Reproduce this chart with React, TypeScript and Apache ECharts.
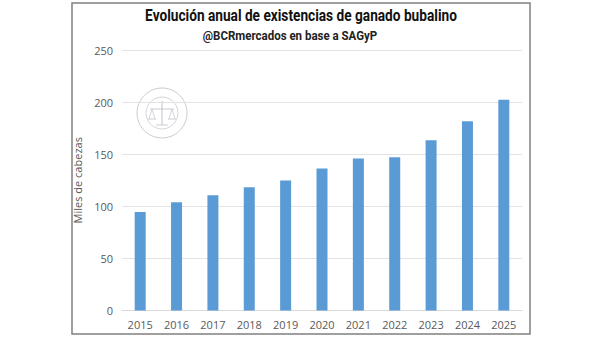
import React, { useEffect, useRef } from "react";
import * as echarts from "echarts";

const years = ["2015", "2016", "2017", "2018", "2019", "2020", "2021", "2022", "2023", "2024", "2025"];
const stock = [94.6, 103.8, 110.6, 118.3, 124.8, 136.2, 145.8, 147.1, 163.5, 181.7, 202.2];
const titleText = "Evolución anual de existencias de ganado bubalino";
const subtitleText = "@BCRmercados en base a SAGyP";
const yAxisName = "Miles de cabezas";

export default function App() {
  const ref = useRef<HTMLDivElement>(null);
  useEffect(() => {
    document.body.style.margin = "0";
    const chart = echarts.init(ref.current!, null, { renderer: "svg" });
    const sealColor = "#c8ccd2";
    chart.setOption({
      animation: false,
      backgroundColor: "#ffffff",
      grid: { left: 122, right: 78, top: 50, bottom: 28.5 },
      xAxis: {
        type: "category",
        data: years,
        axisLine: { lineStyle: { color: "#d9d9d9" } },
        axisTick: { show: false },
        axisLabel: { color: "#595959", fontSize: 11, fontFamily: "Open Sans", margin: 8 },
      },
      yAxis: {
        type: "value",
        min: 0,
        max: 250,
        interval: 50,
        name: yAxisName,
        nameLocation: "middle",
        nameGap: 33,
        nameTextStyle: { color: "#595959", fontSize: 11, fontFamily: "Open Sans" },
        axisLine: { show: false },
        axisTick: { show: false },
        splitLine: { lineStyle: { color: "#e3e3e3" } },
        axisLabel: { color: "#595959", fontSize: 11, fontFamily: "Open Sans", margin: 9 },
      },
      series: [
        {
          type: "bar",
          data: stock,
          barWidth: 11,
          itemStyle: { color: "#5b9bd5" },
        },
      ],
      graphic: [
        {
          type: "rect",
          shape: { x: 72, y: 3, width: 458, height: 331 },
          style: { fill: "none", stroke: "#808080", lineWidth: 1.5 },
          silent: true,
        },
        {
          type: "text",
          x: 301,
          y: 8,
          scaleX: 0.855,
          silent: true,
          style: {
            text: titleText,
            fill: "#111111",
            font: "bold 16px Roboto",
            textAlign: "center",
            textVerticalAlign: "top",
          },
        },
        {
          type: "text",
          x: 290,
          y: 29,
          scaleX: 0.92,
          silent: true,
          style: {
            text: subtitleText,
            fill: "#222222",
            font: "bold 12.5px Roboto",
            textAlign: "center",
            textVerticalAlign: "top",
          },
        },
        {
          type: "group",
          x: 162,
          y: 113,
          silent: true,
          children: [
            { type: "circle", shape: { cx: 0, cy: 0, r: 25 }, style: { fill: "none", stroke: sealColor, lineWidth: 1 } },
            { type: "circle", shape: { cx: 0, cy: 0, r: 16 }, style: { fill: "none", stroke: sealColor, lineWidth: 0.8 } },
            { type: "line", shape: { x1: -12, y1: -4, x2: 12, y2: -4 }, style: { stroke: sealColor, lineWidth: 1 } },
            { type: "line", shape: { x1: 0, y1: -12, x2: 0, y2: 12 }, style: { stroke: sealColor, lineWidth: 1.2 } },
            { type: "polyline", shape: { points: [[-13, 6], [-10, -4], [-7, 6]] }, style: { stroke: sealColor, fill: "none", lineWidth: 0.8 } },
            { type: "polyline", shape: { points: [[7, 6], [10, -4], [13, 6]] }, style: { stroke: sealColor, fill: "none", lineWidth: 0.8 } },
            { type: "line", shape: { x1: -14, y1: 6, x2: -6, y2: 6 }, style: { stroke: sealColor, lineWidth: 1 } },
            { type: "line", shape: { x1: 6, y1: 6, x2: 14, y2: 6 }, style: { stroke: sealColor, lineWidth: 1 } },
            { type: "line", shape: { x1: -6, y1: 12, x2: 6, y2: 12 }, style: { stroke: sealColor, lineWidth: 1 } },
          ],
        },
      ],
    });
    return () => chart.dispose();
  }, []);
  return <div ref={ref} style={{ width: 600, height: 339 }} />;
}
